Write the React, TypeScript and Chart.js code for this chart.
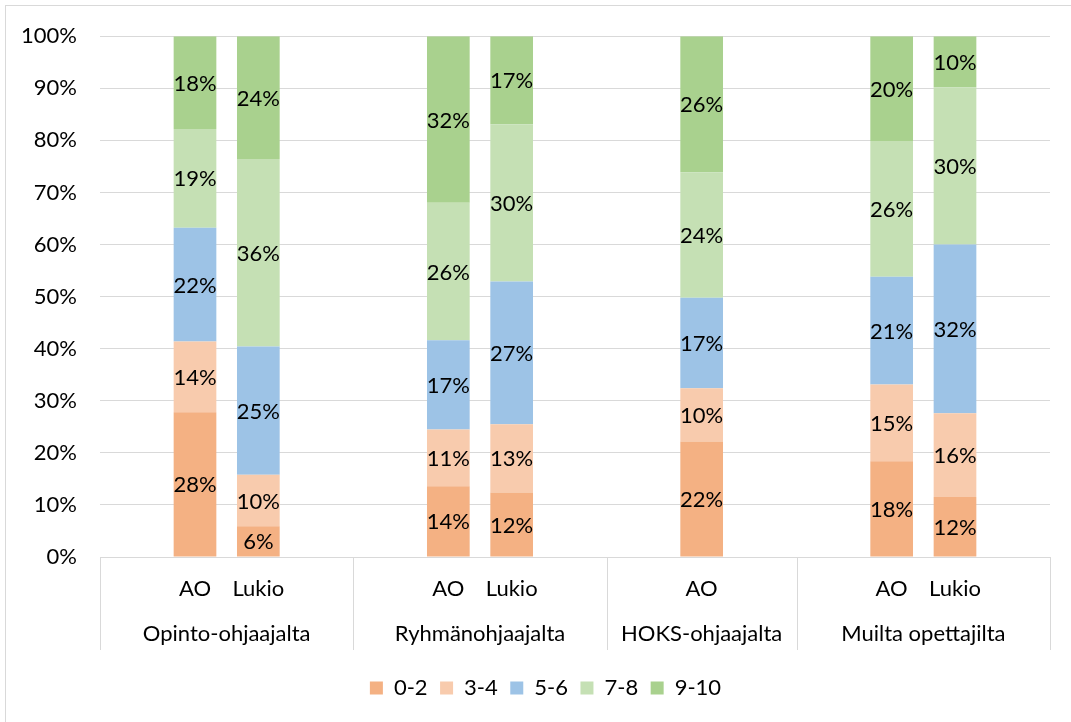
import React, { useEffect, useRef } from "react";
import { Chart, registerables } from "chart.js";

Chart.register(...registerables);

const categories = ["", "AO", "Lukio", "", "", "AO", "Lukio", "", "", "AO", "", "", "AO", "Lukio", ""];
const groupLabels = ["Opinto-ohjaajalta", "Ryhmänohjaajalta", "HOKS-ohjaajalta", "Muilta opettajilta"];
const groupStarts = [0, 4, 8, 11];
const groupEnds = [4, 8, 11, 15];

const seriesNames = ["0-2", "3-4", "5-6", "7-8", "9-10"];
const seriesColors = ["#F4B183", "#F8CBAD", "#9DC3E6", "#C5E0B4", "#A9D18E"];

const s0_2 = [null, 27.8, 5.9, null, null, 13.6, 12.4, null, null, 22.2, null, null, 18.4, 11.5, null];
const s3_4 = [null, 13.6, 9.9, null, null, 10.9, 13.1, null, null, 10.2, null, null, 14.7, 16.1, null];
const s5_6 = [null, 21.8, 24.6, null, null, 17.1, 27.4, null, null, 17.4, null, null, 20.7, 32.4, null];
const s7_8 = [null, 19.0, 36.0, null, null, 26.4, 30.2, null, null, 24.1, null, null, 26.1, 30.2, null];
const s9_10 = [null, 17.8, 23.6, null, null, 32.0, 16.9, null, null, 26.1, null, null, 20.1, 9.8, null];

const seriesValues = [s0_2, s3_4, s5_6, s7_8, s9_10];

const FONT = "Lato";
const FS = 22;
const GRID = "#d9d9d9";

const segmentLabels = {
  id: "segmentLabels",
  afterDatasetsDraw(chart: any) {
    const ctx = chart.ctx;
    ctx.save();
    ctx.font = `${FS}px ${FONT}`;
    ctx.fillStyle = "#000";
    ctx.textAlign = "center";
    ctx.textBaseline = "middle";
    chart.data.datasets.forEach((ds: any, di: number) => {
      const meta = chart.getDatasetMeta(di);
      meta.data.forEach((el: any, i: number) => {
        const v = ds.data[i];
        if (v === null || v === undefined) return;
        const y = (el.y + el.base) / 2;
        ctx.fillText(Math.round(v) + "%", el.x, y + 1);
      });
    });
    ctx.restore();
  },
};

const groupAxis = {
  id: "groupAxis",
  afterDraw(chart: any) {
    const xs = chart.scales.x;
    const ctx = chart.ctx;
    const half = (xs.getPixelForValue(1) - xs.getPixelForValue(0)) / 2;
    const top = xs.top;
    ctx.save();
    ctx.strokeStyle = GRID;
    ctx.lineWidth = 1;
    const bounds: number[] = [];
    groupStarts.forEach((s) => bounds.push(xs.getPixelForValue(s) - half));
    bounds.push(xs.getPixelForValue(groupEnds[groupEnds.length - 1] - 1) + half);
    bounds.forEach((bx) => {
      const px = Math.round(bx) + 0.5;
      ctx.beginPath();
      ctx.moveTo(px, top);
      ctx.lineTo(px, top + 93);
      ctx.stroke();
    });
    ctx.font = `${FS}px ${FONT}`;
    ctx.fillStyle = "#000";
    ctx.textAlign = "center";
    ctx.textBaseline = "middle";
    groupLabels.forEach((g, gi) => {
      const l = xs.getPixelForValue(groupStarts[gi]) - half;
      const r = xs.getPixelForValue(groupEnds[gi] - 1) + half;
      ctx.fillText(g, (l + r) / 2, top + 77);
    });
    ctx.restore();
  },
};

export default function App() {
  const ref = useRef<HTMLCanvasElement | null>(null);
  useEffect(() => {
    document.body.style.margin = "0";
    const canvas = ref.current;
    if (!canvas) return;
    const chart = new Chart(canvas, {
      type: "bar",
      data: {
        labels: categories,
        datasets: seriesNames.map((n, i) => ({
          label: n,
          data: seriesValues[i] as any,
          backgroundColor: seriesColors[i],
          borderWidth: 0,
          categoryPercentage: 1,
          barPercentage: 0.674,
        })),
      },
      options: {
        animation: false,
        responsive: false,
        maintainAspectRatio: false,
        devicePixelRatio: 1,
        layout: { padding: { top: 35, right: 0, left: 20, bottom: 13 } },
        plugins: {
          legend: {
            position: "bottom",
            labels: {
              boxWidth: 13,
              boxHeight: 13,
              padding: 12.5,
              color: "#000",
              font: { family: FONT, size: FS },
            },
          },
          tooltip: { enabled: false },
        },
        scales: {
          x: {
            stacked: true,
            grid: { display: false, drawTicks: false },
            border: { display: true, color: GRID, width: 1 },
            ticks: {
              autoSkip: false,
              maxRotation: 0,
              minRotation: 0,
              padding: 19,
              color: "#000",
              font: { family: FONT, size: FS },
            },
            afterFit: (s: any) => {
              s.height = 107.5;
            },
          },
          y: {
            stacked: true,
            min: 0,
            max: 100,
            grid: { color: GRID, lineWidth: 1, drawTicks: false },
            border: { display: false },
            ticks: {
              stepSize: 10,
              padding: 23,
              color: "#000",
              font: { family: FONT, size: FS },
              callback: (v: any) => v + "%",
            },
            afterFit: (s: any) => {
              s.width = 80;
            },
          },
          yRight: {
            position: "right",
            display: true,
            min: 0,
            max: 100,
            grid: { display: false, drawTicks: false },
            border: { display: false },
            ticks: { display: false },
            afterFit: (s: any) => {
              s.width = 21;
            },
          },
        },
      },
      plugins: [segmentLabels, groupAxis],
    });
    return () => chart.destroy();
  }, []);

  return (
    <div style={{ position: "relative", width: 1071, height: 722, overflow: "hidden", background: "#fff" }}>
      <div
        style={{
          position: "absolute",
          left: 5,
          top: 5,
          width: 1100,
          height: 740,
          border: "1px solid #d9d9d9",
        }}
      />
      <canvas ref={ref} width={1071} height={722} style={{ position: "absolute", left: 0, top: 0 }} />
    </div>
  );
}
